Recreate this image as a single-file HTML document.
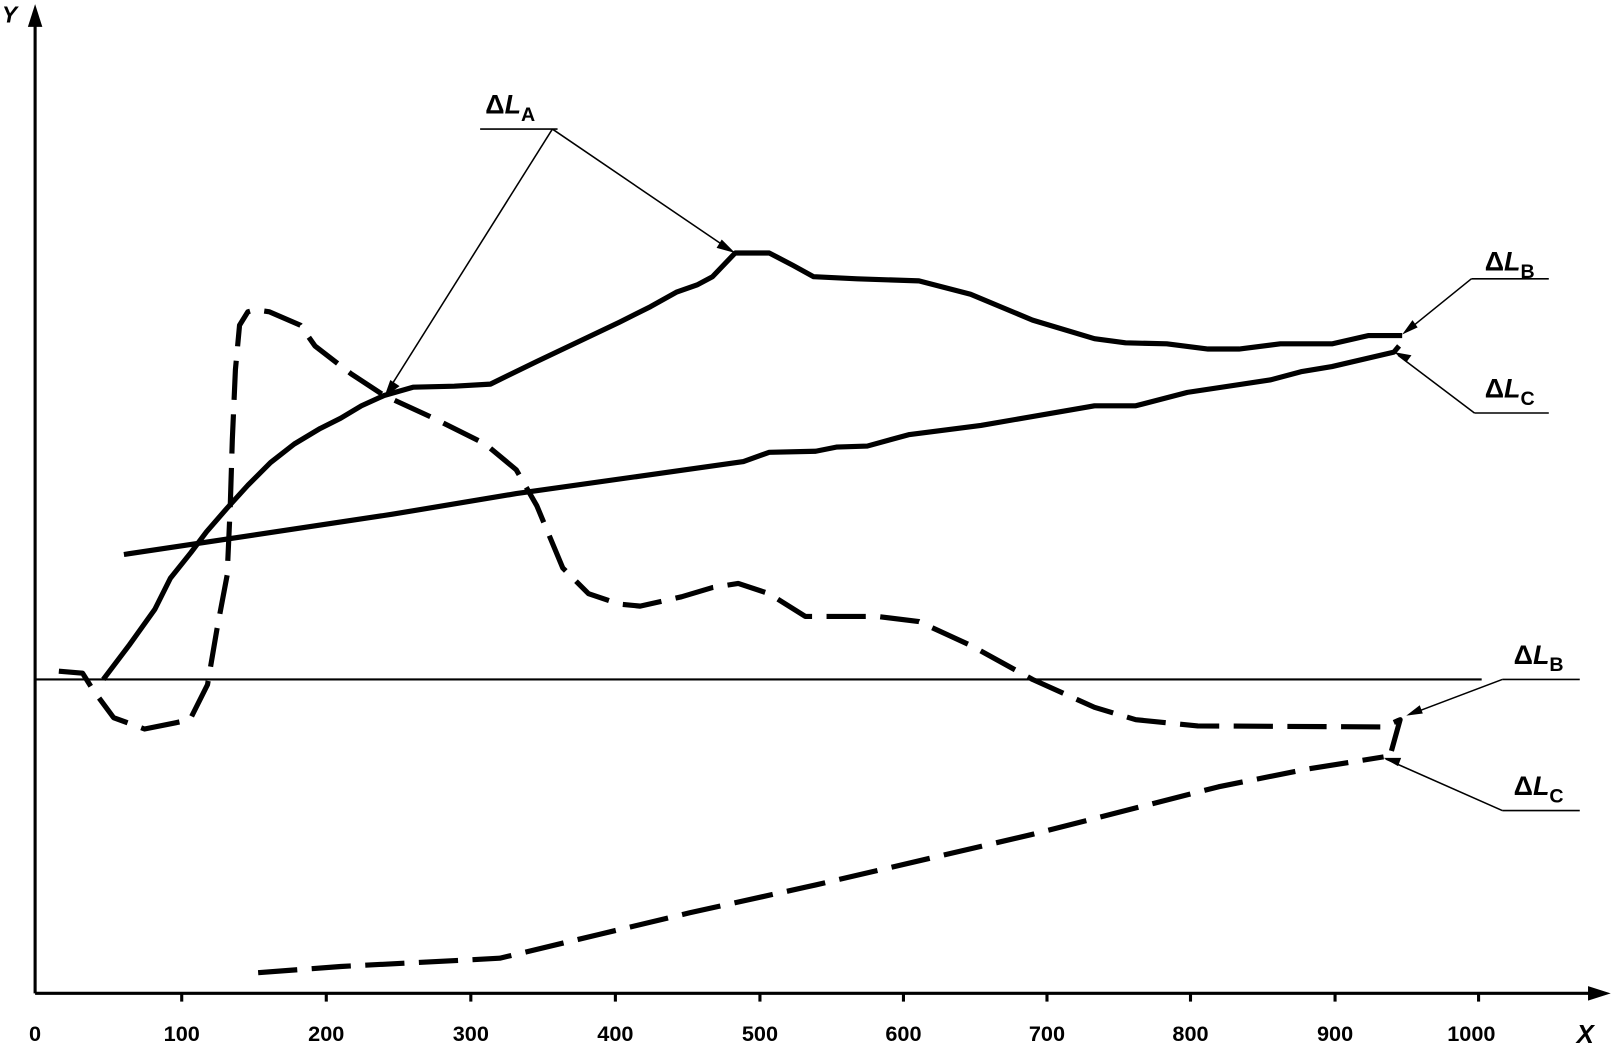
<!DOCTYPE html>
<html><head><style>html,body{margin:0;padding:0;background:#fff;}svg{display:block}</style></head>
<body>
<svg width="1619" height="1046" viewBox="0 0 1568 1013" preserveAspectRatio="none" xmlns="http://www.w3.org/2000/svg" font-family="Liberation Sans, Arial, sans-serif" font-weight="bold">
<g stroke="#000" fill="none">
<line x1="34" y1="962" x2="1545" y2="962" stroke-width="3"/>
<line x1="34" y1="962" x2="34" y2="22" stroke-width="3"/>
<line x1="34" y1="658" x2="1435" y2="658" stroke-width="2"/>
<g stroke-width="3">
<line x1="176" y1="962" x2="176" y2="970"/><line x1="316" y1="962" x2="316" y2="970"/><line x1="456" y1="962" x2="456" y2="970"/>
<line x1="596" y1="962" x2="596" y2="970"/><line x1="736" y1="962" x2="736" y2="970"/><line x1="875" y1="962" x2="875" y2="970"/>
<line x1="1014" y1="962" x2="1014" y2="970"/><line x1="1153" y1="962" x2="1153" y2="970"/><line x1="1293" y1="962" x2="1293" y2="970"/>
<line x1="1432" y1="962" x2="1432" y2="970"/>
</g>
<polyline stroke-width="5" stroke-linejoin="round" points="100,658 125,625 150,590 165,560 185,535 200,515 220,492 240,470 262,448 285,430 310,415 330,405 350,393 372,383 400,375 440,374 475,372 520,350 560,331 600,312 630,297 655,283 675,276 690,268 712,245 745,245 768,257 788,268 830,270 890,272 940,285 1000,310 1060,328 1090,332 1130,333 1170,338 1200,338 1240,333 1290,333 1325,325 1358,325"/>
<polyline stroke-width="5" stroke-linejoin="round" points="120,537 380,498 500,478 720,447 745,438 790,437 810,433 840,432 880,421 950,412 1060,393 1100,393 1150,380 1230,368 1260,360 1290,355 1350,341 1355,335"/>
<polyline stroke-width="5" stroke-dasharray="38,14" stroke-linejoin="round" points="57,650 80,652 90,668 110,695 140,706 170,700 184,697 201,663 210,610 220,557 223,490 225,426 228,358 232,315 240,302 247,300 261,302 291,315 305,335 340,362 372,383 420,405 470,430 500,455 520,490 545,550 570,575 600,585 620,587 660,578 690,569 715,565 745,575 780,597 850,597 890,602 940,625 1000,658 1060,685 1100,697 1160,703 1340,704 1356,697 1346,733"/>
<polyline stroke-width="5" stroke-dasharray="38,14" stroke-linejoin="round" points="250,942 330,936 484,928 580,905 668,884 790,857 910,829 1000,808 1094,784 1180,762 1265,745 1340,733"/>
<g stroke-width="1.5">
<line x1="465" y1="125" x2="540" y2="125"/>
<line x1="535" y1="125" x2="376" y2="378"/>
<line x1="535" y1="125" x2="707" y2="242"/>
<line x1="1425" y1="270" x2="1500" y2="270"/>
<line x1="1425" y1="270" x2="1362" y2="321"/>
<line x1="1428" y1="400" x2="1500" y2="400"/>
<line x1="1428" y1="400" x2="1354" y2="344"/>
<line x1="1455" y1="658" x2="1530" y2="658"/>
<line x1="1455" y1="658" x2="1365" y2="692"/>
<line x1="1455" y1="785" x2="1530" y2="785"/>
<line x1="1455" y1="785" x2="1342" y2="735"/>
</g>
</g>
<g fill="#000">
<polygon points="1560,962 1538,955 1538,969"/>
<polygon points="34,4 27,26 41,26"/>
<polygon points="372,385 378,368 387,374"/>
<polygon points="712,245 694,240 699,232"/>
<polygon points="1358,324 1368,310 1373,317"/>
<polygon points="1350,341 1367,344 1362,351"/>
<polygon points="1362,693 1375,683 1378,691"/>
<polygon points="1340,734 1357,734 1354,742"/>
</g>
<g font-size="21" text-anchor="middle">
<text x="34" y="1008">0</text><text x="176" y="1008">100</text><text x="316" y="1008">200</text><text x="456" y="1008">300</text>
<text x="596" y="1008">400</text><text x="736" y="1008">500</text><text x="875" y="1008">600</text><text x="1014" y="1008">700</text>
<text x="1153" y="1008">800</text><text x="1293" y="1008">900</text><text x="1425" y="1008">1000</text>
</g>
<text x="1527" y="1010" font-size="25" font-style="italic">X</text>
<text x="2" y="22" font-size="22" font-style="italic">Y</text>
<g font-size="26">
<text x="470" y="110">Δ<tspan font-style="italic">L</tspan><tspan font-size="19" dy="7">A</tspan></text>
<text x="1438" y="262">Δ<tspan font-style="italic">L</tspan><tspan font-size="19" dy="7">B</tspan></text>
<text x="1438" y="385">Δ<tspan font-style="italic">L</tspan><tspan font-size="19" dy="7">C</tspan></text>
<text x="1466" y="643">Δ<tspan font-style="italic">L</tspan><tspan font-size="19" dy="7">B</tspan></text>
<text x="1466" y="770">Δ<tspan font-style="italic">L</tspan><tspan font-size="19" dy="7">C</tspan></text>
</g>
</svg>
</body></html>
